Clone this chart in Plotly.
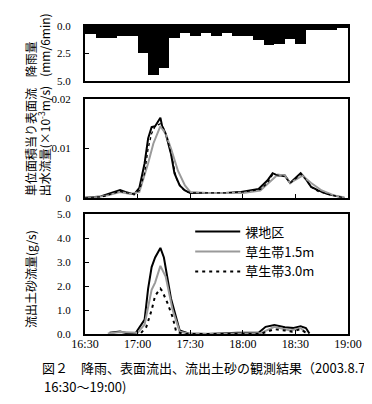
import pandas as pd
import plotly.graph_objects as go

# ---------------- data ----------------
t0 = pd.Timestamp("2003-08-07 16:30")

# rainfall per 6-min interval (mm/6min), intervals starting 16:30
rain_start_min = list(range(0, 150, 6))
rain_mm = [0.7, 1.07, 1.07, 0.9, 0.9, 2.4, 4.4, 3.8, 1.07, 0.6,
           0.9, 0.6, 0.9, 0.6, 0.9, 0.9, 1.25, 1.75, 1.65, 1.2,
           1.65, 0.4, 0.4, 0.4, 0.1]

# surface runoff per unit area
q_bare_min = [0, 5, 9, 15, 20, 23, 28, 31, 34, 36, 38, 40, 43, 44, 46, 49, 51, 54, 57, 60,
              70, 80, 89, 93, 99, 104, 107, 110, 114, 117, 120, 123, 126, 129, 133, 138, 144, 148]
q_bare = [0, 0.0001, 0.0003, 0.001, 0.0016, 0.0012, 0.0007, 0.002, 0.007, 0.012, 0.0143,
          0.0145, 0.0162, 0.0145, 0.013, 0.009, 0.005, 0.0025, 0.0015, 0.001,
          0.001, 0.001, 0.0012, 0.0015, 0.0018, 0.0035, 0.005, 0.0045, 0.0045, 0.003,
          0.004, 0.005, 0.0038, 0.0022, 0.0015, 0.0008, 0.0003, 0.0]

q_g15_min = [0, 8, 13, 20, 26, 31, 36, 39, 43, 46, 49, 53, 57, 60, 70, 80, 90, 100, 106,
             110, 114, 117, 124, 129, 135, 142, 148]
q_g15 = [0, 0.0002, 0.0005, 0.0012, 0.0008, 0.0012, 0.007, 0.011, 0.0145, 0.013, 0.01,
         0.0055, 0.0025, 0.0012, 0.001, 0.001, 0.001, 0.0015, 0.0035, 0.0047, 0.0045,
         0.003, 0.0045, 0.003, 0.0015, 0.0005, 0.0001]

q_g30_min = [0, 10, 15, 20, 24, 28, 31, 34, 36, 38, 40, 43, 45, 47, 50, 52, 55, 58, 62,
             80, 90, 100, 104, 107, 110, 114, 117, 120, 123, 126, 129, 133, 140, 148]
q_g30 = [0, 0.0002, 0.0008, 0.0013, 0.001, 0.0008, 0.0015, 0.005, 0.01, 0.013, 0.0145,
         0.015, 0.014, 0.012, 0.0075, 0.004, 0.002, 0.0012, 0.001, 0.001, 0.0012, 0.0017,
         0.003, 0.0047, 0.0046, 0.0043, 0.003, 0.0038, 0.0048, 0.0037, 0.0022, 0.0013,
         0.0006, 0.0]

# sediment discharge (g/s)
s_bare_min = [14, 20, 24, 29, 34, 36, 38, 40, 43, 45, 49, 54, 59, 70, 87, 99, 103, 108,
              114, 119, 123, 126, 128]
s_bare = [0.05, 0.1, 0.03, 0.05, 0.6, 1.9, 2.8, 3.2, 3.6, 3.2, 1.5, 0.15, 0.02, 0.0,
          0.05, 0.05, 0.3, 0.38, 0.28, 0.25, 0.32, 0.25, 0.02]

s_g15_min = [13, 20, 30, 34, 38, 40, 43, 46, 50, 54, 60, 100, 108, 114, 117, 123, 126]
s_g15 = [0.02, 0.08, 0.05, 0.4, 1.85, 2.15, 2.85, 2.4, 1.0, 0.1, 0.0, 0.03, 0.3, 0.2,
         0.15, 0.25, 0.05]

s_g30_min = [32, 35, 38, 40, 43, 44, 47, 50, 52, 56, 100, 108, 114, 118, 123, 126]
s_g30 = [0.05, 0.3, 1.0, 1.6, 1.9, 1.8, 1.3, 0.7, 0.1, 0.0, 0.0, 0.2, 0.15, 0.1, 0.2, 0.05]

series_names = ["裸地区", "草生帯1.5m", "草生帯3.0m"]
x_tick_min = [0, 30, 60, 90, 120, 150]
x_tick_text = ["16:30", "17:00", "17:30", "18:00", "18:30", "19:00"]


def tt(mins):
    return [t0 + pd.Timedelta(minutes=m) for m in mins]


# ---------------- figure ----------------
fig = go.Figure()

fig.add_trace(go.Bar(x=[t0 + pd.Timedelta(minutes=m + 3) for m in rain_start_min], y=rain_mm,
                     width=6 * 60 * 1000, marker=dict(color="black", line=dict(width=0)),
                     xaxis="x3", yaxis="y3", showlegend=False))

styles = [dict(color="black", width=2),
          dict(color="#9a9a9a", width=2),
          dict(color="black", width=2, dash="3px,4px")]

for mins, vals, st in [(q_bare_min, q_bare, styles[0]), (q_g15_min, q_g15, styles[1]),
                       (q_g30_min, q_g30, dict(color="black", width=1.3, dash="dot"))]:
    fig.add_trace(go.Scatter(x=tt(mins), y=vals, mode="lines", line=st,
                             xaxis="x2", yaxis="y2", showlegend=False))

for name, mins, vals, st in zip(series_names, [s_bare_min, s_g15_min, s_g30_min],
                                [s_bare, s_g15, s_g30], styles):
    fig.add_trace(go.Scatter(x=tt(mins), y=vals, mode="lines", line=st, name=name,
                             xaxis="x", yaxis="y"))

xr = [t0, t0 + pd.Timedelta(minutes=150)]
tickvals = tt(x_tick_min)
tickfont = dict(family="Liberation Serif", size=12, color="black")
yfont = dict(family="Liberation Serif", size=11, color="black")
axis_common = dict(showline=True, linecolor="black", linewidth=2, mirror=True,
                   showgrid=False, zeroline=False)

fig.update_layout(
    width=372, height=404,
    margin=dict(l=77, r=32, t=14, b=78),
    paper_bgcolor="white", plot_bgcolor="white",
    bargap=0,
    font=dict(family="Noto Sans CJK JP", size=12, color="black"),
    xaxis=dict(domain=[0, 1], range=xr, tickvals=tickvals, ticktext=x_tick_text,
               ticks="inside", ticklen=4, tickcolor="black", tickfont=tickfont,
               ticklabelstandoff=-2, anchor="y", **axis_common),
    xaxis2=dict(domain=[0, 1], range=xr, tickvals=tickvals, showticklabels=False,
                ticks="inside", ticklen=4, tickcolor="black", anchor="y2", matches="x",
                **axis_common),
    xaxis3=dict(domain=[0, 1], range=xr, showticklabels=False, ticks="", anchor="y3",
                matches="x", **axis_common),
    yaxis=dict(domain=[0, 0.388], range=[0, 5], tickvals=[0, 1, 2, 3, 4, 5],
               ticktext=["0.0", "1.0", "2.0", "3.0", "4.0", "5.0"], ticks="inside",
               ticklen=4, tickcolor="black", tickfont=yfont, ticklabelstandoff=10,
               anchor="x", **axis_common),
    yaxis2=dict(domain=[0.442, 0.763], range=[0, 0.02], tickvals=[0, 0.01, 0.02],
                ticktext=["0", "0.01", "0.02"], ticks="inside", ticklen=4,
                tickcolor="black", tickfont=yfont, ticklabelstandoff=10, anchor="x2",
                **axis_common),
    yaxis3=dict(domain=[0.8205, 1], range=[5, 0], tickvals=[0, 2.5, 5],
                ticktext=["0.0", "2.5", "5.0"], ticks="inside", ticklen=4,
                tickcolor="black", tickfont=yfont, ticklabelstandoff=10, anchor="x3",
                **axis_common),
    legend=dict(x=0.40, y=0.381, xanchor="left", yanchor="top", itemwidth=45,
                bgcolor="rgba(0,0,0,0)", font=dict(family="Noto Sans CJK JP", size=13),
                tracegroupgap=0),
)

ann_font = dict(family="Noto Sans CJK JP", size=12, color="black")
annots = [
    ("降雨量", -0.209, 0.827),
    ("(mm/6min)", -0.152, 0.827),
    ("単位面積当り表面流", -0.205, 0.442),
    ("出水流量(×10<sup>-3</sup>m/s)", -0.158, 0.442),
    ("流出土砂流量(g/s)", -0.205, 0.013),
]
for text, x, y in annots:
    fig.add_annotation(text=text, xref="paper", yref="paper", x=x, y=y,
                       xanchor="center", yanchor="bottom", textangle=-90,
                       showarrow=False, font=ann_font)

fig.add_annotation(text="図２　降雨、表面流出、流出土砂の観測結果（2003.8.7",
                   xref="paper", yref="paper", x=-0.17, y=-0.11, xanchor="left",
                   yanchor="middle", showarrow=False,
                   font=dict(family="Noto Sans CJK JP", size=13, color="black"))
fig.add_annotation(text="16:30～19:00)",
                   xref="paper", yref="paper", x=-0.163, y=-0.17, xanchor="left",
                   yanchor="middle", showarrow=False,
                   font=dict(family="Noto Sans CJK JP", size=13, color="black"))

fig.write_html("out.html")
